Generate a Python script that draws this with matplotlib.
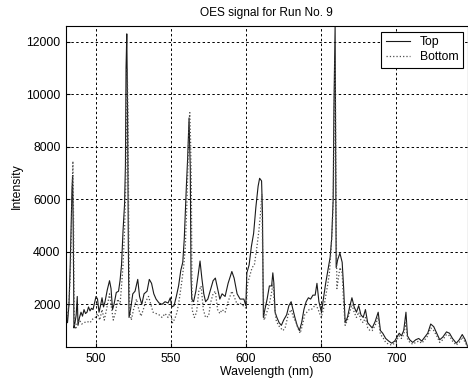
import matplotlib
matplotlib.use("Agg")
import matplotlib.pyplot as plt

plt.rcParams['font.family'] = ['Liberation Sans', 'DejaVu Sans']

# Top series (wavelength nm, intensity)
top_wl = [480.0, 480.4, 481.0, 482.0, 482.8, 483.5, 484.0, 484.4, 484.8, 485.3,
          486.0, 486.8, 487.5, 488.0, 489.0, 490.0, 491.0, 492.0, 493.0, 494.0,
          495.0, 496.0, 497.0, 498.0, 499.0, 500.0, 501.0, 502.0, 503.0, 504.0,
          505.0, 506.0, 507.5, 509.0, 510.0, 511.0, 512.0, 513.5, 515.0, 516.0,
          517.0, 518.0, 519.0, 519.6, 520.0, 520.5, 521.0, 521.5, 522.0, 523.0,
          524.5, 526.0, 527.8, 529.0, 530.5, 532.0, 534.0, 535.5, 537.0, 538.5,
          540.0, 542.0, 544.0, 546.0, 548.0, 549.5, 550.5, 552.0, 553.5, 555.0,
          556.5, 557.8, 558.8, 559.5, 560.2, 561.0, 561.6, 562.0, 562.4, 562.8,
          563.3, 563.8, 565.0, 566.5, 568.0, 569.3, 570.5, 571.8, 573.0, 574.5,
          576.0, 578.0, 579.5, 581.0, 582.5, 584.0, 586.0, 588.0, 590.5, 592.0,
          594.0, 596.0, 598.5, 599.8, 600.5, 602.0, 603.5, 605.0, 606.5, 608.0,
          609.0, 610.3, 610.9, 611.5, 612.5, 614.0, 615.5, 617.0, 617.8, 618.5,
          619.3, 620.5, 622.0, 623.5, 625.0, 627.0, 628.5, 630.0, 631.0, 632.5,
          634.0, 635.5, 637.0, 638.5, 640.0, 641.5, 643.0, 644.5, 646.0, 647.2,
          648.5, 650.2, 651.5, 653.0, 654.5, 656.0, 657.0, 658.0, 658.5, 659.3,
          660.0, 661.0, 662.5, 664.0, 665.0, 666.0, 667.5, 669.0, 670.5, 672.0,
          673.5, 675.0, 676.5, 678.0, 679.5, 681.0, 682.5, 684.0, 686.0, 688.0,
          689.5, 691.0, 693.0, 695.0, 697.0, 699.0, 700.5, 702.0, 703.5, 705.0,
          706.5, 707.5, 709.0, 711.0, 713.0, 715.0, 717.0, 719.0, 721.0, 723.0,
          725.0, 727.0, 729.0, 731.0, 733.5, 735.5, 737.5, 740.0, 742.0, 744.0,
          746.0, 747.5]
top_int = [7700, 1500, 1300, 2000, 3500, 5200, 6400, 6900, 5000, 1100,
           1300, 1600, 2300, 1200, 1500, 1700, 1550, 1800, 1650, 1700,
           1900, 1750, 1850, 1800, 2050, 2300, 2200, 1700, 1950, 2250,
           1900, 2100, 2550, 2900, 2600, 1800, 2000, 2450, 2500, 2900,
           3500, 4800, 5800, 7300, 11000, 12300, 9500, 4400, 1500, 1800,
           2400, 2500, 2950, 2300, 2000, 2400, 2500, 2950, 2800, 2400,
           2200, 2050, 2000, 2100, 2050, 2250, 1900, 1950, 2300, 2700,
           3300, 3600, 4500, 5500, 6500, 7500, 8500, 9100, 8000, 7200,
           3000, 2200, 2100, 2500, 3100, 3650, 3000, 2400, 2100, 2200,
           2500, 2900, 3000, 2600, 2200, 2400, 2300, 2800, 3250, 3000,
           2400, 2200, 2200, 1950, 3200, 3500, 4200, 4700, 5700, 6500,
           6800, 6700, 5500, 1500, 1800, 2200, 2700, 2700, 3200, 2800,
           1700, 1500, 1300, 1200, 1400, 1600, 1950, 2100, 1850, 1500,
           1200, 1000, 1300, 1800, 2100, 2250, 2200, 2350, 2350, 2800,
           2100, 1700, 2200, 2800, 3300, 3800, 4500, 6000, 9500, 12600,
           3400, 3700, 3950, 3600, 2600, 1300, 1500, 1900, 2250, 1900,
           1700, 1950, 1600, 1500, 1800, 1300, 1200, 1100, 1350, 1700,
           1000, 900, 700, 600, 520, 600, 750, 900, 800, 1000,
           1700, 800, 650, 550, 650, 700, 600, 750, 900, 1250,
           1150, 900, 650, 750, 950, 900, 700, 520, 650, 850,
           650, 400]

# Bottom series
bot_wl = [480.0, 481.0, 482.0, 482.8, 483.5, 484.0, 484.6, 485.0, 485.5, 486.5,
          487.5, 489.0, 490.5, 492.0, 494.0, 496.0, 498.0, 499.5, 501.0, 502.5,
          504.0, 505.5, 507.0, 509.0, 510.5, 511.5, 513.0, 514.5, 516.0, 517.0,
          518.0, 519.0, 519.8, 520.3, 520.8, 521.3, 521.8, 522.4, 523.5, 525.0,
          527.0, 528.5, 530.0, 531.5, 533.0, 535.0, 536.5, 538.0, 540.0, 542.0,
          544.0, 546.0, 548.0, 549.5, 551.0, 552.5, 554.0, 555.5, 557.0, 558.5,
          559.5, 560.5, 561.3, 562.0, 562.5, 563.0, 563.5, 564.0, 565.5, 567.0,
          568.5, 570.0, 571.5, 573.0, 575.0, 576.5, 578.0, 579.5, 581.0, 582.5,
          584.0, 586.0, 588.0, 590.5, 592.0, 594.0, 596.0, 598.0, 600.0, 601.0,
          602.5, 604.0, 605.5, 607.0, 608.5, 609.5, 610.5, 611.3, 612.0, 613.5,
          615.0, 616.5, 618.0, 618.8, 620.0, 621.5, 623.0, 624.5, 626.0, 628.0,
          630.0, 631.5, 633.0, 634.5, 636.0, 637.5, 639.0, 640.5, 642.0, 643.5,
          645.0, 646.5, 648.0, 650.0, 651.5, 653.0, 654.5, 655.5, 656.5, 657.5,
          658.2, 658.8, 659.4, 660.0, 660.5, 661.5, 662.5, 664.0, 665.0, 666.0,
          667.5, 669.0, 670.5, 672.0, 673.5, 675.0, 676.5, 678.0, 679.5, 681.0,
          682.5, 684.0, 686.0, 688.0, 689.5, 691.0, 693.0, 695.0, 697.0, 699.0,
          700.5, 702.0, 703.5, 705.0, 706.5, 707.5, 709.0, 711.0, 713.0, 715.0,
          717.0, 719.0, 721.0, 723.0, 725.0, 727.0, 729.0, 731.0, 733.5, 735.5,
          737.5, 740.0, 742.0, 744.0, 746.0, 747.5]
bot_int = [1300, 1500, 2100, 3000, 4500, 6000, 7450, 5500, 1300, 1050,
           1300, 1400, 1250, 1300, 1350, 1300, 1450, 1500, 1650, 1400,
           1800, 1400, 1800, 2400, 1800, 1400, 1700, 2200, 2000, 2700,
           3500, 4800, 6500, 9000, 11000, 9300, 5000, 1800, 1400, 1800,
           2200, 1800, 1550, 1800, 2100, 2300, 2000, 1700, 1650, 1600,
           1500, 1650, 1500, 1700, 1300, 1450, 1700, 2200, 2800, 3500,
           4200, 5800, 7400, 9000, 9300, 8200, 6500, 1800, 1500, 1700,
           2500, 2700, 1800, 1500, 1550, 2100, 2400, 2500, 1800, 1650,
           1800, 1700, 2100, 2500, 2300, 2000, 2050, 1950, 1850, 2800,
           3100, 3400, 3500, 4100, 4800, 5400, 6200, 2800, 1400, 1650,
           1900, 2300, 2800, 2000, 1400, 1200, 1100, 1000, 1100, 1600,
           1800, 1500, 1350, 1100, 900, 1200, 1600, 1700, 1800, 1800,
           1900, 2000, 1800, 1500, 1800, 2300, 2800, 3200, 4000, 5000,
           6500, 10000, 11300, 5000, 2600, 3000, 3400, 3200, 2000, 1200,
           1400, 1700, 2000, 1700, 1500, 1700, 1400, 1300, 1500, 1100,
           1000, 1000, 1200, 1500, 850, 750, 550, 480, 450, 520,
           650, 800, 700, 850, 1300, 700, 550, 480, 550, 600,
           520, 650, 800, 1100, 1000, 800, 550, 650, 850, 800,
           600, 450, 550, 750, 550, 375]

yticks = [2000, 4000, 6000, 8000, 10000, 12000]
xticks = [500, 550, 600, 650, 700]

fig = plt.figure(figsize=(4.68, 3.82), dpi=100)
ax = fig.add_axes([66 / 468, 1 - 347 / 382, 401.5 / 468, 321 / 382])

ax.plot(top_wl, top_int, color='0.1', lw=0.8, label='Top')
ax.plot(bot_wl, bot_int, color='0.3', lw=0.9, linestyle=':', label='Bottom')

ax.set_xlim(min(top_wl + bot_wl), max(top_wl + bot_wl))
ax.set_ylim(min(top_int + bot_int), max(top_int + bot_int))
ax.set_xticks(xticks)
ax.set_yticks(yticks)
ax.grid(True, color='k', linestyle=(0, (2.5, 2.5)), lw=0.7)
ax.tick_params(direction='in', length=3, labelsize=8.8, pad=4)
for s in ax.spines.values():
    s.set_linewidth(0.8)

ax.set_title('OES signal for Run No. 9', fontsize=8.6, pad=7)
ax.set_xlabel('Wavelength (nm)', fontsize=8.8, labelpad=1)
ax.set_ylabel('Intensity', fontsize=8.8, labelpad=2.5)

leg = ax.legend(loc='upper right', bbox_to_anchor=(463 / 468, 1 - 32 / 382),
                bbox_transform=fig.transFigure, fontsize=8.8, fancybox=False,
                framealpha=1, edgecolor='k', handlelength=2.0,
                borderpad=0.35, labelspacing=0.25, borderaxespad=0)
leg.get_frame().set_linewidth(0.8)

fig.savefig('out.png', dpi=100)
